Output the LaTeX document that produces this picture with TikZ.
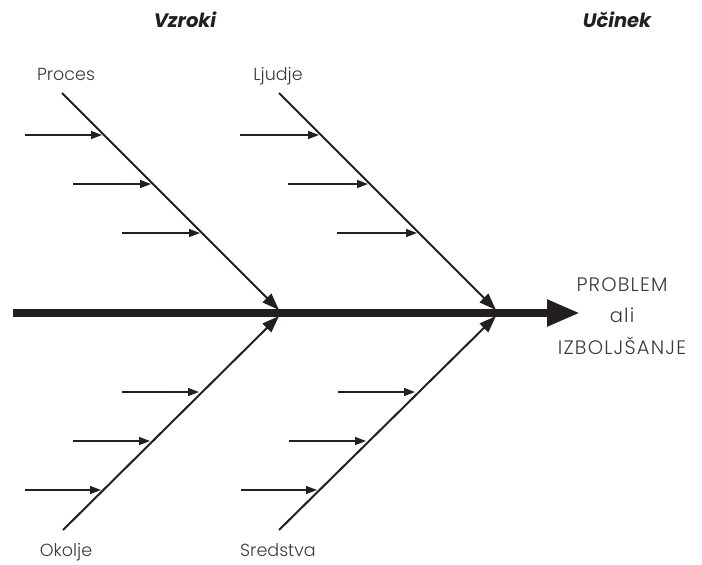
\documentclass[tikz,border=0pt]{standalone}
\usepackage{fontspec}
\setmainfont{Poppins}[UprightFont=* Light, BoldItalicFont=* Bold Italic]
\newfontfamily\resfont{Poppins}[UprightFont=* Light, LetterSpace=6]
\usetikzlibrary{arrows.meta}
\definecolor{ink}{HTML}{231F20}
\definecolor{txt}{HTML}{3A3A3A}
\begin{document}
\begin{tikzpicture}[x=1pt,y=-1pt,
  bone/.style={draw=ink,line width=2pt,-{Triangle[length=17pt,width=12pt]}},
  cause/.style={draw=ink,line width=1.3pt,-{Triangle[length=11pt,width=8pt]}},
  spine/.style={draw=ink,line width=8pt,-{Triangle[length=33pt,width=25pt]}},
  lbl/.style={text=txt,font=\fontsize{17.5}{20}\selectfont,inner sep=0pt,anchor=base},
  head/.style={text=ink,font=\fontsize{19.5}{22}\selectfont\bfseries\itshape,inner sep=0pt,anchor=base},
  res/.style={text=txt,font=\resfont\fontsize{19.5}{22}\selectfont,inner sep=0pt,anchor=base}]
\useasboundingbox (0,0) rectangle (702,565);
% spine
\coordinate (sp0) at (13,313);
\coordinate (sp1) at (580,313);
\draw[spine] (sp0) -- (sp1);
% main bones
\coordinate (b1s) at (62,93);   \coordinate (b1e) at (279,310);
\coordinate (b2s) at (279,93);  \coordinate (b2e) at (496,310);
\coordinate (b3s) at (63,530);  \coordinate (b3e) at (279,316);
\coordinate (b4s) at (279,530); \coordinate (b4e) at (496,316);
\draw[bone] (b1s) -- (b1e);
\draw[bone] (b2s) -- (b2e);
\draw[bone] (b3s) -- (b3e);
\draw[bone] (b4s) -- (b4e);
% cause arrows, upper half
\foreach \i/\y/\xs in {1/135/25,2/184/73,3/233/122}{
  \coordinate (ua\i) at (\xs,\y);
  \coordinate (ub\i) at ({62+\y-93-2},\y);
  \coordinate (uc\i) at (\xs+215,\y);
  \coordinate (ud\i) at ({279+\y-93-2},\y);
  \draw[cause] (ua\i) -- (ub\i);
  \draw[cause] (uc\i) -- (ud\i);
}
% cause arrows, lower half
\foreach \i/\y/\xs in {1/392/122,2/441/73,3/490/25}{
  \coordinate (la\i) at (\xs,\y);
  \coordinate (lb\i) at ({63+530-\y-2},\y);
  \coordinate (lc\i) at (\xs+216,\y);
  \coordinate (ld\i) at ({279+530-\y-2},\y);
  \draw[cause] (la\i) -- (lb\i);
  \draw[cause] (lc\i) -- (ld\i);
}
% labels
\node[lbl] (proces) at (66,80) {Proces};
\node[lbl] (ljudje) at (278,80) {Ljudje};
\node[lbl] (okolje) at (66,556) {Okolje};
\node[lbl] (sredstva) at (278,556) {Sredstva};
\node[head] (vzroki) at (185,27) {Vzroki};
\node[head] (ucinek) at (617,27) {Učinek};
\node[res] (problem) at (622,291) {PROBLEM};
\node[res] (ali) at (622,322.5) {ali};
\node[res] (izbolj) at (622,354) {IZBOLJŠANJE};
\end{tikzpicture}
\end{document}
